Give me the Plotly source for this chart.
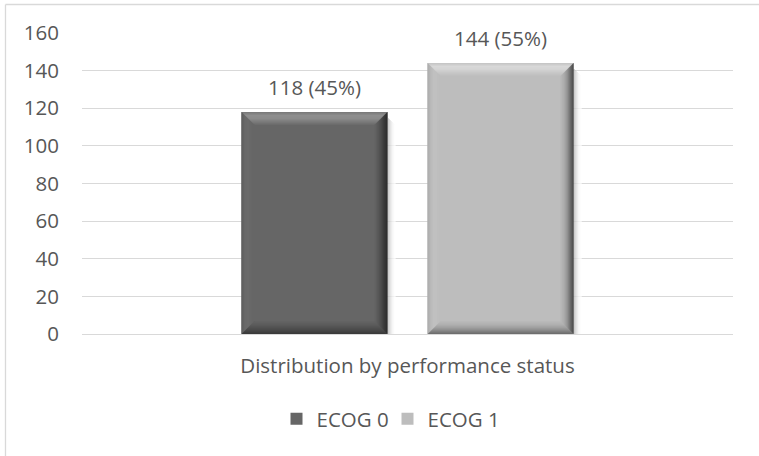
import plotly.graph_objects as go

# ---- data -------------------------------------------------------------
category = "Distribution by performance status"
series_names = ["ECOG 0", "ECOG 1"]
patients = [118, 144]
y_ticks = [0, 20, 40, 60, 80, 100, 120, 140, 160]

# ---- styling ----------------------------------------------------------
FONT = "Open Sans"
FONT_SIZE = 20.5
TEXT_COLOR = "#575757"
GRID_COLOR = "#D9D9D9"
face_colors = ["#666666", "#BDBDBD"]

# bevel colour ramps, listed from the outer edge of the bar inwards
bevel_ramps = [
    {
        "top": ["#7a7a7a", "#8e8e8e", "#8b8b8b", "#7c7c7c", "#6c6c6c"],
        "right": ["#1a1a1a", "#2c2c2c", "#434343", "#555555", "#626262"],
        "bottom": ["#3a3a3a", "#474747", "#525252", "#5c5c5c", "#636363"],
        "left": ["#5c5c5c", "#6a6a6a", "#6d6d6d", "#696969", "#666666"],
    },
    {
        "top": ["#c6c6c6", "#d8d8d8", "#d3d3d3", "#c8c8c8", "#bfbfbf"],
        "right": ["#262626", "#555555", "#878787", "#a5a5a5", "#b6b6b6"],
        "bottom": ["#6e6e6e", "#898989", "#a0a0a0", "#b0b0b0", "#b9b9b9"],
        "left": ["#a8a8a8", "#b8b8b8", "#c3c3c3", "#c0c0c0", "#bdbdbd"],
    },
]
BEVEL_PX = 13
SHADOW_PX = 8

# ---- geometry ---------------------------------------------------------
W, H = 759, 456
M_L, M_R, M_T, M_B = 82, 26, 33, 122
PLOT_W = W - M_L - M_R
PLOT_H = H - M_T - M_B
X_RANGE = (-0.5, 0.5)
Y_RANGE = (0, 160)
ux = (X_RANGE[1] - X_RANGE[0]) / PLOT_W  # x data units per pixel
uy = (Y_RANGE[1] - Y_RANGE[0]) / PLOT_H  # y data units per pixel

BAR_W = 0.2243
BAR_GAP = 0.0615
offsets = [-(BAR_GAP / 2 + BAR_W), BAR_GAP / 2]


def hex_to_rgb(h):
    h = h.lstrip("#")
    return tuple(int(h[i:i + 2], 16) for i in (0, 2, 4))


def ramp(stops, t):
    """Colour at position t (0..1) along a list of hex stops."""
    seg = (len(stops) - 1) * t
    i = min(int(seg), len(stops) - 2)
    f = seg - i
    a, b = hex_to_rgb(stops[i]), hex_to_rgb(stops[i + 1])
    c = [round(a[k] + (b[k] - a[k]) * f) for k in range(3)]
    return "rgb({},{},{})".format(*c)


def poly(points):
    return "M " + " L ".join(f"{x:.6f},{y:.6f}" for x, y in points) + " Z"


fig = go.Figure()
shapes = []
annotations = []
total = sum(patients)

for name, value, color, off, ramps in zip(series_names, patients, face_colors, offsets, bevel_ramps):
    fig.add_trace(go.Bar(
        name=name,
        x=[0],
        y=[value],
        width=BAR_W,
        offset=off,
        marker=dict(color=color, line=dict(width=0)),
        hoverinfo="skip",
    ))

    x0, x1 = off, off + BAR_W
    y0, y1 = 0, value

    # soft shadow to the right of the bar
    for i in range(SHADOW_PX):
        t = i / (SHADOW_PX - 1)
        col = ramp(["#b4b4b4", "#d8d8d8", "#f4f4f4", "#ffffff"], t)
        shapes.append(dict(
            type="rect", xref="x", yref="y", layer="above",
            x0=x1 + i * ux, x1=x1 + (i + 1) * ux,
            y0=y0 - 2 * uy, y1=y1 - (6 + i) * uy,
            fillcolor=col, line=dict(width=0),
        ))

    # bevelled edges, drawn as thin strips stepping inwards
    for i in range(BEVEL_PX):
        d0, d1 = i, i + 1
        t = i / (BEVEL_PX - 1)
        xl0, xl1 = x0 + d0 * ux, x0 + d1 * ux
        xr0, xr1 = x1 - d0 * ux, x1 - d1 * ux
        yb0, yb1 = y0 + d0 * uy, y0 + d1 * uy
        yt0, yt1 = y1 - d0 * uy, y1 - d1 * uy
        sides = {
            "top": [(xl0, yt0), (xr0, yt0), (xr1, yt1), (xl1, yt1)],
            "bottom": [(xl0, yb0), (xr0, yb0), (xr1, yb1), (xl1, yb1)],
            "left": [(xl0, yt0), (xl0, yb0), (xl1, yb1), (xl1, yt1)],
            "right": [(xr0, yt0), (xr0, yb0), (xr1, yb1), (xr1, yt1)],
        }
        for side in ("top", "bottom", "left", "right"):
            shapes.append(dict(
                type="path", xref="x", yref="y", layer="above",
                path=poly(sides[side]),
                fillcolor=ramp(ramps[side], t),
                line=dict(width=0),
            ))

    annotations.append(dict(
        x=off + BAR_W / 2, y=value, xref="x", yref="y",
        text=f"{value} ({round(100 * value / total)}%)",
        showarrow=False, yanchor="middle", yshift=25,
        font=dict(family=FONT, size=FONT_SIZE, color=TEXT_COLOR),
    ))

# chart-area border (left and top edges)
bx = (5.5 - M_L) / PLOT_W
by = (H - M_B - 4.5) / PLOT_H
shapes.append(dict(type="line", xref="paper", yref="paper",
                   x0=bx, x1=bx, y0=-2, y1=by,
                   line=dict(color=GRID_COLOR, width=1.3)))
shapes.append(dict(type="line", xref="paper", yref="paper",
                   x0=bx, x1=2, y0=by, y1=by,
                   line=dict(color=GRID_COLOR, width=1.3)))

fig.update_layout(
    width=W, height=H,
    margin=dict(l=M_L, r=M_R, t=M_T, b=M_B, pad=0),
    paper_bgcolor="white", plot_bgcolor="white",
    barmode="overlay",
    font=dict(family=FONT, size=FONT_SIZE, color=TEXT_COLOR),
    shapes=shapes,
    annotations=annotations,
    showlegend=True,
    legend=dict(
        orientation="h", x=0.5 - 20 / PLOT_W, xanchor="center",
        y=(H - M_B - 419) / PLOT_H, yanchor="middle",
        font=dict(family=FONT, size=FONT_SIZE, color=TEXT_COLOR),
        bgcolor="rgba(0,0,0,0)",
        itemwidth=30, entrywidth=66, entrywidthmode="pixels",
    ),
)
fig.update_xaxes(
    range=list(X_RANGE), tickvals=[0], ticktext=[category],
    showgrid=False, zeroline=False, showline=False,
    ticks="", ticklabelstandoff=17,
    tickfont=dict(family=FONT, size=FONT_SIZE, color=TEXT_COLOR),
)
fig.update_yaxes(
    range=list(Y_RANGE), tickvals=y_ticks,
    showgrid=True, gridcolor=GRID_COLOR, gridwidth=1,
    zeroline=True, zerolinecolor=GRID_COLOR, zerolinewidth=1,
    showline=False, ticks="", ticklabelstandoff=22,
    tickfont=dict(family=FONT, size=FONT_SIZE, color=TEXT_COLOR),
)

fig.write_html("out.html")
